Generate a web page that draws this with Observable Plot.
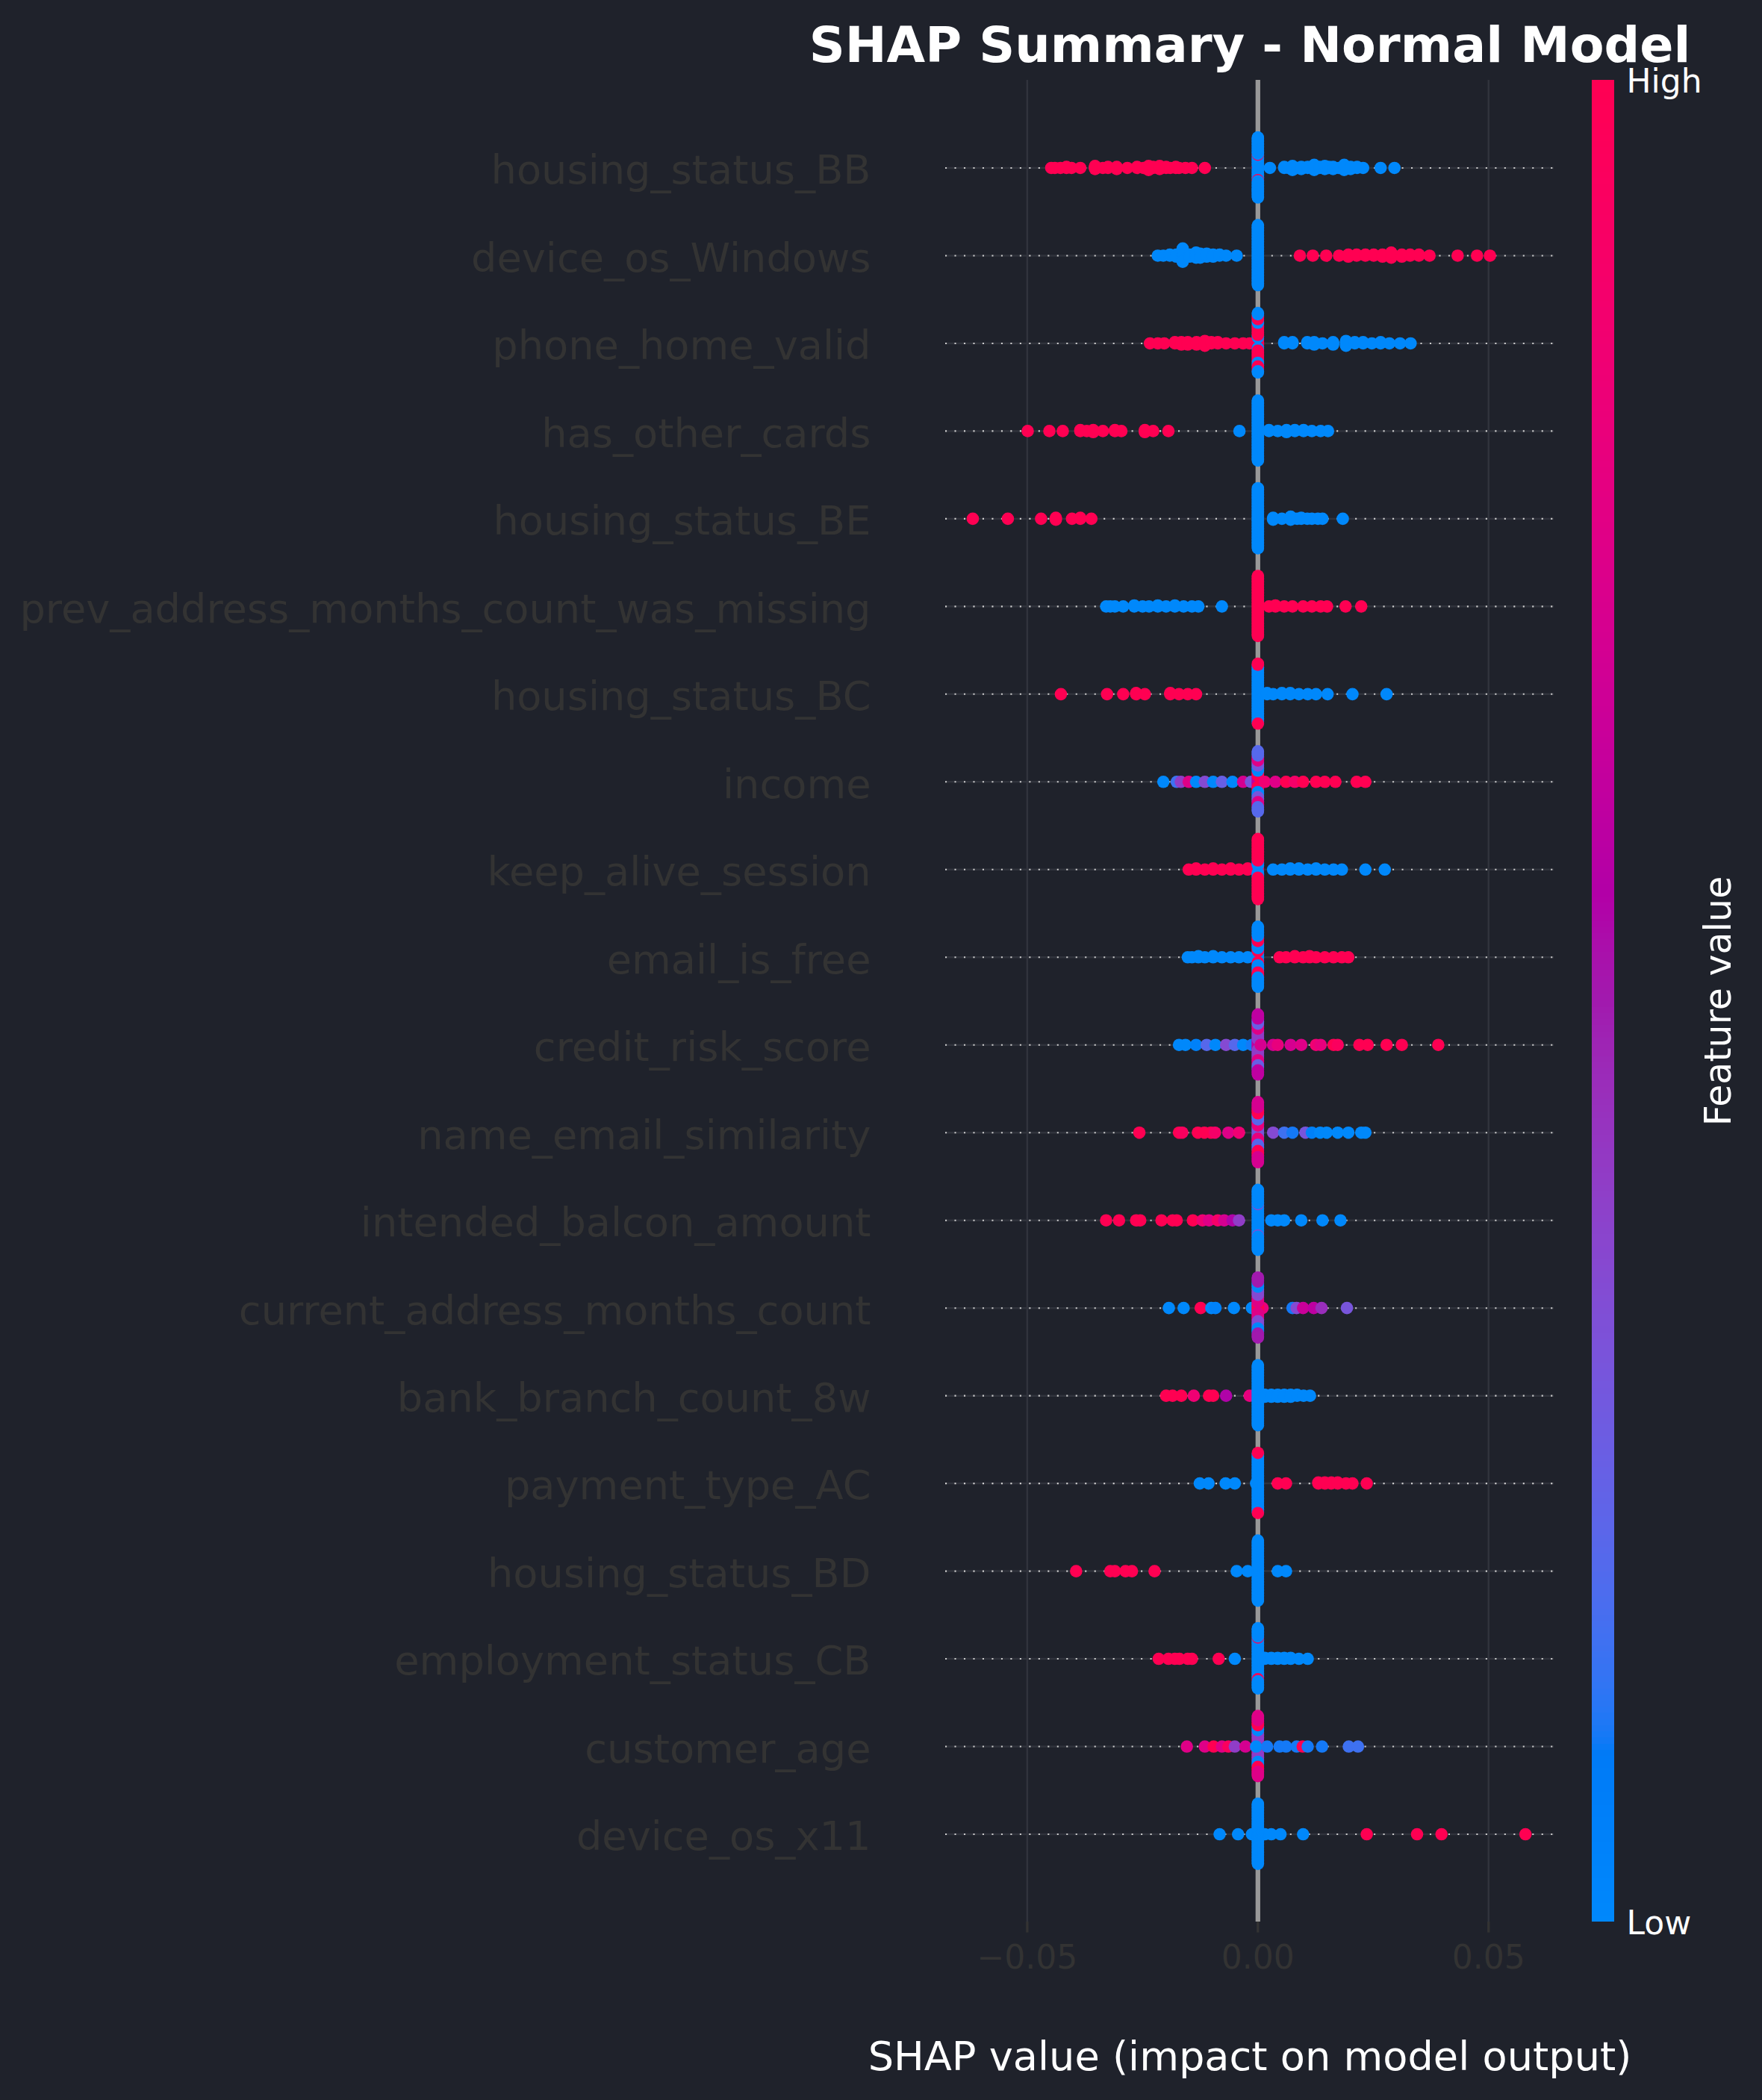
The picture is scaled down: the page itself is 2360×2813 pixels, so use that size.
<!DOCTYPE html>
<html><head><meta charset="utf-8">
<script src="https://cdn.jsdelivr.net/npm/d3@7"></script>
<script src="https://cdn.jsdelivr.net/npm/@observablehq/plot@0.6"></script>
<style>
html,body{margin:0;padding:0;background:#1f222b;}
#wrap{position:relative;width:2360px;height:2813px;background:#1f222b;overflow:hidden;}
#wrap svg{position:absolute;left:0;top:0;}
</style></head><body><div id="wrap"></div>
<script>
// ---------- DATA (shap value, normalized feature value 0=low..1=high, count) ----------
const features = ["housing_status_BB","device_os_Windows","phone_home_valid","has_other_cards","housing_status_BE","prev_address_months_count_was_missing","housing_status_BC","income","keep_alive_session","email_is_free","credit_risk_score","name_email_similarity","intended_balcon_amount","current_address_months_count","bank_branch_count_8w","payment_type_AC","housing_status_BD","employment_status_CB","customer_age","device_os_x11"];
const xTicks = [-0.05, 0, 0.05];
const colorbarLabels = ["Low", "High"];
const titleText = "SHAP Summary - Normal Model";
const xLabelText = "SHAP value (impact on model output)";
const colorLabelText = "Feature value";

const housing_status_BB = [[-0.0448,1],[-0.0440,1],[-0.0428,1],[-0.0415,1,2],[-0.0404,1],[-0.0385,1],[-0.0353,1,4],[-0.0336,1],[-0.0325,1,2],[-0.0306,1,3],[-0.0283,1],[-0.0262,1,2],[-0.0248,1],[-0.0237,1,5],[-0.0227,1,2],[-0.0213,1,4],[-0.0199,1,2],[-0.0190,1],[-0.0178,1,2],[-0.0171,1],[-0.0157,1],[-0.0143,1],[-0.0115,1],
 [0,1,2],[0,0,22],[0,1,2],[0,0,34],
 [0.0026,0],[0.0057,0,2],[0.0066,0],[0.0075,0,5],[0.0085,0],[0.0094,0,3],[0.0108,0,2],[0.0122,0,6],[0.0134,0,2],[0.0145,0,4],[0.0154,0,2],[0.0163,0,3],[0.0175,0],[0.0187,0,6],[0.0201,0,3],[0.0215,0,2],[0.0228,0],[0.0266,0],[0.0296,0]];
const device_os_Windows = [[-0.0217,0],[-0.0205,0],[-0.0191,0,2],[-0.0177,0,3],[-0.0163,0,14],[-0.0148,0,3],[-0.0134,0,6],[-0.0125,0,5],[-0.0111,0,4],[-0.0097,0,3],[-0.0083,0,2],[-0.0069,0],[-0.0046,0],
 [0,0,60],
 [0.0091,1],[0.0119,1],[0.0148,1],[0.0176,1],[0.0196,1,3],[0.0214,1,2],[0.0233,1,2],[0.0251,1,2],[0.0270,1,3],[0.0289,1,6],[0.0312,1,3],[0.0330,1,2],[0.0349,1,2],[0.0372,1],[0.0433,1],[0.0475,1],[0.0503,1]];
const phone_home_valid = [[-0.0234,1],[-0.0217,1],[-0.0203,1],[-0.0180,1,2],[-0.0166,1,3],[-0.0152,1,3],[-0.0133,1,3],[-0.0115,1,5],[-0.0101,1,2],[-0.0087,1,2],[-0.0069,1],[-0.0050,1],[-0.0032,1],[-0.0018,1],
 [0,1,8],[0,0,4],[0,1,20],[0,0,6],[0,1,8],[0,0,4],
 [0.0057,0,2],[0.0075,0,2],[0.0107,0,2],[0.0122,0,3],[0.0140,0],[0.0163,0,3],[0.0191,0,5],[0.0210,0,2],[0.0228,0,2],[0.0247,0],[0.0266,0,2],[0.0285,0],[0.0308,0],[0.0331,0]];
const has_other_cards = [[-0.0499,1],[-0.0452,1],[-0.0423,1],[-0.0385,1,2],[-0.0371,1],[-0.0357,1,3],[-0.0336,1],[-0.0310,1,2],[-0.0296,1],[-0.0245,1,3],[-0.0227,1],[-0.0194,1],
 [-0.0040,0],[0,0,60],
 [0.0024,0,2],[0.0043,0],[0.0062,0,3],[0.0080,0,2],[0.0099,0,2],[0.0117,0],[0.0136,0],[0.0152,0]];
const housing_status_BE = [[-0.0618,1],[-0.0542,1],[-0.0470,1],[-0.0438,1,3],[-0.0403,1],[-0.0385,1,2],[-0.0361,1],
 [0,0,60],
 [0.0033,0,3],[0.0052,0],[0.0071,0,4],[0.0085,0],[0.0094,0,2],[0.0107,0],[0.0117,0],[0.0130,0],[0.0140,0],[0.0184,0]];
const prev_address_months_count_was_missing = [[-0.0329,0],[-0.0320,0],[-0.0310,0],[-0.0292,0],[-0.0268,0,2],[-0.0250,0],[-0.0236,0],[-0.0217,0,2],[-0.0199,0],[-0.0180,0,2],[-0.0161,0],[-0.0143,0],[-0.0129,0],[-0.0078,0],
 [0,1,60],
 [0.0024,1],[0.0038,1,2],[0.0057,1],[0.0075,1],[0.0098,1],[0.0117,1],[0.0136,1],[0.0150,1],[0.0190,1],[0.0224,1]];
const housing_status_BC = [[-0.0427,1],[-0.0327,1],[-0.0292,1],[-0.0264,1,2],[-0.0245,1],[-0.0190,1,2],[-0.0171,1],[-0.0152,1],[-0.0134,1],
 [0,0,55],[0,1,3],
 [0.0020,0,2],[0.0033,0],[0.0052,0,2],[0.0070,0,2],[0.0089,0],[0.0108,0],[0.0126,0],[0.0151,0],[0.0205,0],[0.0279,0]];
const income = [[-0.0205,0],[-0.0176,0.15],[-0.0167,0.4],[-0.0150,0.75],[-0.0134,0],[-0.0115,0.35],[-0.0097,0],[-0.0078,0.25],[-0.0055,0],[-0.0032,0.7],[-0.0015,0.3],
 [0,0.6,10],[0,1,10],[0,0,10],[0,0.3,10],[0,0.75,10],[0,0.2,10],
 [0.0015,0.85],[0.0038,0.75],[0.0061,1],[0.0080,0.9],[0.0098,1],[0.0126,1],[0.0145,1],[0.0168,1],[0.0214,1],[0.0233,1]];
const keep_alive_session = [[-0.0150,1],[-0.0134,1,2],[-0.0115,1],[-0.0097,1,2],[-0.0078,1],[-0.0059,1,2],[-0.0041,1],[-0.0022,1,2],[-0.0005,1],
 [0,1,6],[0,0,10],[0,1,44],
 [0.0033,0],[0.0052,0],[0.0070,0,2],[0.0089,0,2],[0.0108,0],[0.0126,0,2],[0.0145,0],[0.0164,0],[0.0182,0],[0.0233,0],[0.0275,0]];
const email_is_free = [[-0.0152,0],[-0.0143,0],[-0.0129,0,2],[-0.0115,0],[-0.0097,0,2],[-0.0078,0],[-0.0059,0],[-0.0041,0],[-0.0022,0],
 [0,0,10],[0,1,6],[0,0,14],[0,1,10],[0,0,20],
 [0.0047,1],[0.0061,1],[0.0080,1,2],[0.0098,1],[0.0112,1,2],[0.0126,1],[0.0145,1],[0.0164,1],[0.0182,1],[0.0196,1]];
const credit_risk_score = [[-0.0171,0],[-0.0157,0],[-0.0134,0.05],[-0.0111,0.2],[-0.0092,0],[-0.0069,0.35],[-0.0050,0.2],[-0.0032,0],[-0.0013,0.1],
 [0,0.6,10],[0,0.4,20],[0,0.75,10],[0,0.25,10],[0,0.6,10],
 [0.0006,0.7],[0.0033,0.7],[0.0043,0.8],[0.0071,0.7],[0.0094,0.75],[0.0126,0.85],[0.0136,0.8],[0.0164,1],[0.0173,0.95],[0.0220,1],[0.0238,1],[0.0279,1],[0.0312,1],[0.0391,1]];
const name_email_similarity = [[-0.0257,1],[-0.0171,1],[-0.0164,0.95],[-0.0130,1],[-0.0116,1],[-0.0102,1],[-0.0093,0.9],[-0.0064,0.75],[-0.0041,0.85],
 [0,0.3,12],[0,0.8,12],[0,0.2,12],[0,1,12],[0,0.7,12],
 [0.0033,0.35],[0.0057,0.15],[0.0075,0.1],[0.0103,0.3],[0.0117,0.05],[0.0135,0],[0.0149,0],[0.0173,0],[0.0196,0],[0.0224,0],[0.0233,0]];
const intended_balcon_amount = [[-0.0329,1],[-0.0301,1],[-0.0264,1],[-0.0255,1],[-0.0209,1],[-0.0185,1],[-0.0176,1],[-0.0141,1],[-0.0120,0.85],[-0.0106,0.75],[-0.0087,0.9],[-0.0073,0.7],[-0.0055,0.55],[-0.0041,0.4],
 [0,0,30],[0,0.35,2],[0,0,28],
 [0.0029,0],[0.0043,0],[0.0057,0],[0.0094,0],[0.0140,0],[0.0179,0]];
const current_address_months_count = [[-0.0193,0],[-0.0161,0],[-0.0124,1],[-0.0101,0],[-0.0092,0.05],[-0.0052,0],[-0.0013,0],[0.0010,0.8],
 [0,1,10],[0,0.75,15],[0,0.35,15],[0,0,10],[0,0.5,10],
 [0.0075,0.1],[0.0084,0.35],[0.0098,0.65],[0.0121,0.6],[0.0138,0.45],[0.0193,0.3]];
const bank_branch_count_8w = [[-0.0199,1],[-0.0185,1],[-0.0166,1],[-0.0139,0.85],[-0.0106,1],[-0.0097,1],[-0.0069,0.55],[-0.0018,0.8],
 [0,0,60],
 [0.0015,0,3],[0.0029,0,3],[0.0043,0,3],[0.0057,0,3],[0.0071,0,3],[0.0085,0,2],[0.0099,0],[0.0113,0]];
const payment_type_AC = [[-0.0126,0],[-0.0107,0],[-0.0070,0],[-0.0050,0],[-0.0004,0],
 [0,0,58],[0,1,2],
 [0.0043,1],[0.0061,1],[0.0131,1,2],[0.0145,1,2],[0.0159,1,2],[0.0173,1,2],[0.0191,1],[0.0205,1],[0.0236,1]];
const housing_status_BD = [[-0.0394,1],[-0.0320,1],[-0.0310,1],[-0.0287,1],[-0.0273,1],[-0.0224,1],
 [-0.0046,0],[-0.0022,0],[0,0,60],[0.0043,0],[0.0061,0]];
const employment_status_CB = [[-0.0215,1],[-0.0194,1],[-0.0180,1],[-0.0170,1],[-0.0152,1],[-0.0143,1],[-0.0085,1],[-0.0050,0],
 [0,0,40],[0,1,3],[0,0,17],
 [0.0015,0,2],[0.0029,0,2],[0.0043,0,2],[0.0057,0,2],[0.0071,0,2],[0.0089,0],[0.0108,0]];
const customer_age = [[-0.0154,0.75],[-0.0115,0.75],[-0.0096,1],[-0.0078,0.75],[-0.0064,0.95],[-0.0050,0.4],[-0.0027,0.7],
 [0,0.75,15],[0,0.4,15],[0,0,10],[0,1,10],[0,0.75,10],
 [-0.0004,0],[0.0020,0.1],[0.0047,0.1],[0.0061,0.1],[0.0084,0.1],[0.0097,1],[0.0108,0.1],[0.0139,0.1],[0.0197,0.15],[0.0217,0.15]];
const device_os_x11 = [[-0.0083,0],[-0.0043,0],[-0.0013,0],[0.0015,0],[0.0029,0],[0.0049,0],[0.0098,0],
 [0,0,60],
 [0.0236,1],[0.0345,1],[0.0398,1],[0.0580,1]];

const rowsData = [housing_status_BB, device_os_Windows, phone_home_valid, has_other_cards, housing_status_BE, prev_address_months_count_was_missing, housing_status_BC, income, keep_alive_session, email_is_free, credit_risk_score, name_email_similarity, intended_balcon_amount, current_address_months_count, bank_branch_count_8w, payment_type_AC, housing_status_BD, employment_status_CB, customer_age, device_os_x11];

// ---------- SHAP red-blue colormap (LCH interpolation) ----------
function shapRedBlue(t) {
  t = Math.max(0, Math.min(1, t));
  const l = t < 0.5 ? 54 - 28 * t : 40 + 28 * (t - 0.5);
  const c = 70 + 20 * t;
  const h = 266.93 + 113.39 * t;
  return d3.hcl(h, c, l).formatHex();
}

// ---------- SHAP beeswarm layout (row_height = 0.4) ----------
function swarm(xs) {
  const n = xs.length, mn = d3.min(xs), mx = d3.max(xs);
  const quant = xs.map(x => Math.round(100 * (x - mn) / (mx - mn + 1e-8)));
  const idx = d3.range(n).sort((a, b) => quant[a] - quant[b] || a - b);
  const ys = new Array(n).fill(0);
  let layer = 0, last = -1;
  for (const i of idx) {
    if (quant[i] !== last) layer = 0;
    ys[i] = Math.ceil(layer / 2) * ((layer % 2) * 2 - 1);
    layer++; last = quant[i];
  }
  const m = d3.max(ys, y => y + 1);
  return ys.map(y => y * 0.9 * 0.4 / m);
}

const perRow = rowsData.map((arr, i) => {
  const pts = [];
  for (const [x, v, n = 1] of arr) for (let k = 0; k < n; k++) pts.push({x, v, row: i});
  const offs = swarm(pts.map(p => p.x));
  pts.forEach((p, j) => { p.y = i - offs[j]; });
  return pts;
});
const points = perRow.slice().reverse().flat();
const rowIdx = d3.range(features.length);

const W = 2360, H = 2813;
const M = {top: 107, bottom: 239, left: 1266, right: 279};
const gridColor = "#30333c", axisColor = "#333333";
const font = "DejaVu Sans";
const colorScale = {type: "linear", domain: [0, 1], interpolate: t => shapRedBlue(t)};

const main = Plot.plot({
  width: W, height: H,
  marginTop: M.top, marginBottom: M.bottom, marginLeft: M.left, marginRight: M.right,
  style: {background: "transparent", fontFamily: font, overflow: "visible", maxWidth: "none"},
  x: {domain: [-0.0677, 0.0642]},
  y: {domain: [-1, features.length], reverse: true},
  color: colorScale,
  marks: [
    Plot.ruleX(xTicks, {x: d => d, stroke: gridColor, strokeWidth: 2.5}),
    Plot.ruleY(rowIdx, {y: d => d, stroke: gridColor, strokeWidth: 2.5}),
    Plot.ruleX([0], {x: d => d, stroke: "#999999", strokeWidth: 6.25}),
    Plot.ruleY(rowIdx, {y: d => d, stroke: "#cccccc", strokeWidth: 2.08, strokeDasharray: "2.08,10.4"}),
    Plot.dot(points, {x: "x", y: "y", r: 8.3, fill: "v", stroke: "none"}),
    Plot.axisX({ticks: xTicks, tickFormat: d3.format(".2f"), tickSize: 14.6, tickPadding: 17, fontSize: 44, stroke: axisColor, fill: axisColor, strokeWidth: 3.3, label: null}),
    Plot.axisY({ticks: rowIdx, tickFormat: i => features[i], tickSize: 0, tickPadding: 100, fontSize: 54.2, fill: axisColor, dy: 4, label: null}),
    Plot.text([titleText], {text: d => d, frameAnchor: "top", lineAnchor: "middle", dy: -46, fontSize: 66.7, fontWeight: "bold", fill: "white"}),
    Plot.text([xLabelText], {text: d => d, frameAnchor: "bottom", lineAnchor: "middle", dy: 181, fontSize: 54.2, fill: "white"}),
    Plot.text([colorLabelText], {text: d => d, frameAnchor: "right", textAnchor: "middle", lineAnchor: "middle", dx: 221, rotate: -90, fontSize: 49, fill: "white"})
  ]
});

// ---------- Colorbar ----------
const nSteps = 300;
const steps = d3.range(nSteps).map(i => i / nSteps);
const cbar = Plot.plot({
  width: W, height: H,
  marginTop: M.top, marginBottom: M.bottom, marginLeft: 2132, marginRight: W - 2162,
  style: {background: "transparent", fontFamily: font, overflow: "visible", maxWidth: "none"},
  x: {domain: [0, 1], axis: null},
  y: {domain: [0, 1], axis: null},
  color: colorScale,
  marks: [
    Plot.rect(steps, {x1: 0, x2: 1, y1: d => d, y2: d => Math.min(1, d + 1.5 / nSteps), fill: d => d + 0.5 / nSteps, shapeRendering: "crispEdges"}),
    Plot.text([colorbarLabels[1]], {text: d => d, frameAnchor: "top-right", textAnchor: "start", lineAnchor: "middle", dx: 16, dy: 2, fontSize: 44, fill: "white"}),
    Plot.text([colorbarLabels[0]], {text: d => d, frameAnchor: "bottom-right", textAnchor: "start", lineAnchor: "middle", dx: 16, dy: 2, fontSize: 44, fill: "white"})
  ]
});

const wrap = document.getElementById("wrap");
wrap.appendChild(main);
wrap.appendChild(cbar);
</script></body></html>
